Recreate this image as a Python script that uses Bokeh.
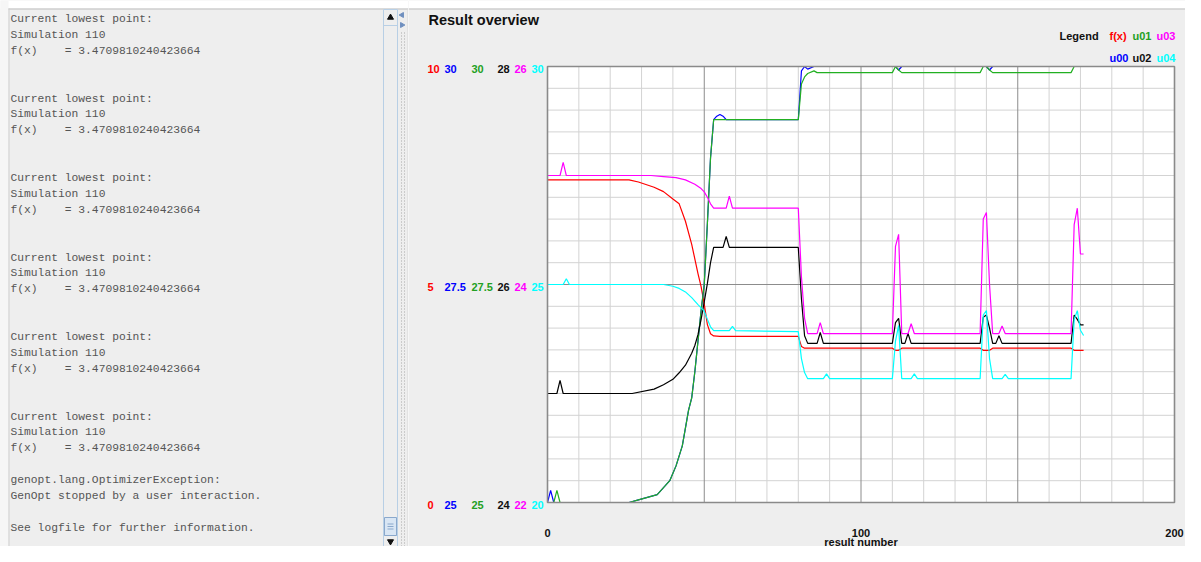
import numpy as np
from bokeh.plotting import figure
from bokeh.models import Range1d
from bokeh.layouts import row
from bokeh.core.properties import value
from bokeh.embed import file_html
from bokeh.resources import INLINE

# ---------------- data ----------------
PAD = "\u00a0" * 4
LOG_GROUP = ["Current lowest point:", "Simulation 110", "f(x)" + PAD + "= 3.4709810240423664"]
LOG_TAIL = ["", "genopt.lang.OptimizerException:", "GenOpt stopped by a user interaction.",
            "", "See logfile for further information."]
LOG_LINES = (LOG_GROUP + ["", ""]) * 5 + LOG_GROUP + LOG_TAIL

TITLE = "Result overview"
X_LABEL = "result number"
X_TICKS = [0, 100, 200]
LEGEND_TITLE = "Legend"

SERIES_NAMES = ["f(x)", "u00", "u01", "u02", "u03", "u04"]
SERIES_COLORS = ["#ff0000", "#0000ff", "#22b022", "#000000", "#ff00ff", "#00ffff"]
LABEL_COLORS = ["#ff0000", "#0000ff", "#22a022", "#111111", "#ff00ff", "#00ffff"]
SERIES_MIN = [0, 25, 25, 24, 22, 20]
SERIES_MAX = [10, 30, 30, 28, 26, 30]

fx_n = [0, 26, 29, 34, 37, 40, 42, 44, 46, 48, 49, 50, 51, 52, 53, 55, 80, 81, 82,
        110, 111, 112, 113, 138, 139, 141, 142, 167, 168, 171]
fx_v = [7.40, 7.40, 7.35, 7.23, 7.13, 6.96, 6.85, 6.45, 5.92, 5.25, 4.95, 4.55, 4.08, 3.87, 3.82, 3.81, 3.81, 3.58, 3.54,
        3.54, 3.49, 3.49, 3.54, 3.54, 3.49, 3.49, 3.54, 3.54, 3.49, 3.49]

u00_n = [0, 1, 2, 26, 29, 35, 39, 41, 43, 45, 46, 47, 48, 49, 50, 51, 52, 53, 54, 55, 56, 57,
         80, 81, 82, 83, 85, 110, 111, 112, 113, 138, 139, 140, 141, 142, 167]
u00_v = [25.0, 25.14, 25.0, 25.0, 25.03, 25.09, 25.25, 25.42, 25.65, 26.06, 26.2, 26.5, 26.85, 27.2, 27.5, 28.2, 28.95,
         29.39, 29.43, 29.45, 29.43, 29.39, 29.39, 29.95, 30.0, 29.97, 30.0, 30.0, 30.0, 29.96, 30.0, 30.0, 30.0, 30.0,
         29.96, 30.0, 30.0]

u01_n = [0, 2, 3, 4, 26, 29, 35, 39, 41, 43, 45, 46, 47, 48, 49, 50, 51, 52, 53, 80, 81, 82, 83, 85, 86,
         110, 111, 112, 113, 138, 139, 140, 141, 142, 167, 168, 171]
u01_v = [25.0, 25.0, 25.14, 25.0, 25.0, 25.03, 25.09, 25.25, 25.42, 25.65, 26.06, 26.2, 26.5, 26.85, 27.2, 27.5, 28.2,
         28.95, 29.39, 29.39, 29.8, 29.88, 29.92, 29.95, 29.93, 29.93, 30.0, 29.96, 29.93, 29.93, 30.0, 30.0, 29.96,
         29.93, 29.93, 30.0, 30.0]

u02_n = [0, 3, 4, 5, 27, 34, 37, 40, 42, 44, 46, 47, 48, 49, 50, 51, 52, 53, 56, 57, 58, 80, 81, 82, 83, 86, 87, 88,
         110, 111, 112, 113, 114, 115, 116, 138, 139, 140, 141, 142, 143, 144, 145, 167, 168, 169, 170, 171]
u02_v = [25.0, 25.0, 25.12, 25.0, 25.0, 25.04, 25.08, 25.13, 25.19, 25.26, 25.37, 25.44, 25.54, 25.68, 25.84, 26.01,
         26.2, 26.34, 26.34, 26.44, 26.34, 26.34, 25.87, 25.53, 25.46, 25.46, 25.56, 25.46,
         25.46, 25.65, 25.69, 25.46, 25.46, 25.55, 25.46, 25.46, 25.70, 25.72, 25.60, 25.46, 25.46, 25.53, 25.46,
         25.46, 25.72, 25.68, 25.63, 25.63]

u03_n = [0, 4, 5, 6, 33, 37, 41, 44, 47, 49, 50, 51, 52, 53, 57, 58, 59, 80, 81, 82, 83, 86, 87, 88,
         110, 111, 112, 113, 115, 116, 117, 138, 139, 140, 141, 142, 144, 145, 146, 167, 168, 169, 170, 171]
u03_v = [25.0, 25.0, 25.12, 25.0, 25.0, 24.99, 24.98, 24.96, 24.92, 24.88, 24.85, 24.80, 24.74, 24.70, 24.70, 24.81,
         24.70, 24.70, 24.07, 23.69, 23.55, 23.55, 23.65, 23.55, 23.55, 24.35, 24.46, 23.55, 23.55, 23.64, 23.55,
         23.55, 24.60, 24.66, 24.0, 23.55, 23.55, 23.62, 23.55, 23.55, 24.55, 24.70, 24.28, 24.28]

u04_n = [0, 5, 6, 7, 37, 40, 42, 44, 46, 48, 50, 51, 52, 53, 58, 59, 60, 80, 81, 82, 83, 88, 89, 90,
         110, 111, 112, 113, 116, 117, 118, 138, 139, 140, 141, 142, 145, 146, 147, 167, 168, 169, 170, 171]
u04_v = [25.0, 25.0, 25.13, 25.0, 25.0, 24.96, 24.91, 24.83, 24.70, 24.54, 24.39, 24.2, 24.03, 23.94, 23.94, 24.04,
         23.94, 23.92, 23.30, 22.98, 22.84, 22.84, 22.95, 22.84, 22.84, 23.7, 24.06, 22.84, 22.84, 22.95, 22.84,
         22.84, 24.3, 24.4, 23.3, 22.84, 22.84, 22.94, 22.84, 22.84, 24.2, 24.4, 23.95, 23.83]

SERIES_N = [fx_n, u00_n, u01_n, u02_n, u03_n, u04_n]
SERIES_V = [fx_v, u00_v, u01_v, u02_v, u03_v, u04_v]

# ---------------- layout constants (picture pixels) ----------------
H = 546
W_L = 408
W_R = 777
FIG_L = W_L                       # chart figure starts where the text panel ends
FRAME_L, FRAME_R = 547, 1174      # plot area left / right
FRAME_T, FRAME_B = 66, 502        # plot area top / bottom
PX_X = (FRAME_R - FRAME_L) / 200.0
PX_Y = FRAME_B - FRAME_T
BG = "#eeeeee"
SANS = value("Liberation Sans")
MONO = value("Liberation Mono")


def xd(px):
    return (px - FRAME_L) / PX_X


def yd(py):
    return (FRAME_B - py) / PX_Y


# ---------------- left text panel ----------------
left = figure(width=W_L, height=H, output_backend="svg", toolbar_location=None,
              x_range=Range1d(0, W_L), y_range=Range1d(H, 0),
              x_axis_location=None, y_axis_location=None, min_border=0)
left.outline_line_color = None
left.background_fill_color = BG
left.border_fill_color = BG
left.grid.visible = False

left.quad(left=[0], right=[W_L], top=[0], bottom=[8], fill_color="white", line_color=None)
left.quad(left=[0], right=[8], top=[0], bottom=[H], fill_color="#f6f6f6", line_color=None)

left.text(x=[10] * len(LOG_LINES), y=[18.5 + 15.9 * i for i in range(len(LOG_LINES))], text=LOG_LINES,
          text_font=MONO, text_font_size="11.3px", text_color="#555555",
          text_align="left", text_baseline="middle")

left.segment(x0=[8], y0=[8.5], x1=[W_L], y1=[8.5], line_color="#bdbdbd", line_width=1)
left.segment(x0=[8.5], y0=[8], x1=[8.5], y1=[H], line_color="#cfcfcf", line_width=1)
# vertical scrollbar
left.quad(left=[383], right=[397], top=[9], bottom=[547], fill_color=BG, line_color="#b8cfe5")
left.segment(x0=[383], y0=[25], x1=[397], y1=[25], line_color="#b8cfe5")
left.segment(x0=[383], y0=[535], x1=[397], y1=[535], line_color="#b8cfe5")
left.quad(left=[384], right=[396], top=[517], bottom=[535], fill_color="#d9e6f4", line_color="#8aa8cc")
left.segment(x0=[387] * 3, y0=[523.5, 526, 528.5], x1=[393] * 3, y1=[523.5, 526, 528.5], line_color="#8aa8cc")
left.scatter(x=[390], y=[17], marker="triangle", size=6, color="#111111")
left.scatter(x=[390], y=[541], marker="inverted_triangle", size=6, color="#111111")
# splitter
left.segment(x0=[401, 404], y0=[32, 32], x1=[401, 404], y1=[H, H], line_color="#a8a8a8",
             line_dash="1 2", line_width=1)
left.scatter(x=[401.5], y=[14.5], marker="triangle", angle=np.pi / 2, size=5, color="#6f8fbf")
left.scatter(x=[401.5], y=[24.5], marker="triangle", angle=-np.pi / 2, size=5, color="#6f8fbf")
left.segment(x0=[407.5], y0=[8], x1=[407.5], y1=[H], line_color="#d6d6d6")

# ---------------- chart ----------------
y_lo, y_hi = yd(H), yd(0)
p = figure(width=W_R, height=H, output_backend="svg", toolbar_location=None,
           x_range=Range1d(xd(FIG_L), xd(FIG_L + W_R)), y_range=Range1d(y_lo, y_hi),
           x_axis_location=None, y_axis_location=None, min_border=0)
p.outline_line_color = None
p.background_fill_color = BG
p.border_fill_color = BG
p.grid.visible = False

for name, lo, hi in zip(SERIES_NAMES, SERIES_MIN, SERIES_MAX):
    span = hi - lo
    p.extra_y_ranges[name] = Range1d(lo + y_lo * span, lo + y_hi * span)

X_MIN, X_MAX = X_TICKS[0], X_TICKS[-1]
p.quad(left=[xd(FIG_L)], right=[xd(FIG_L + W_R)], bottom=[yd(8)], top=[y_hi], fill_color="white", line_color=None)
p.segment(x0=[xd(FIG_L)], y0=[yd(8.5)], x1=[xd(FIG_L + W_R)], y1=[yd(8.5)], line_color="#bdbdbd")
p.quad(left=[X_MIN], right=[X_MAX], bottom=[0], top=[1], fill_color="white", line_color=None)

vx = np.arange(X_MIN, X_MAX + 1, 10)
hy = np.arange(0, 21) / 20
v_light = [v for v in vx if v % 50 != 0]
v_dark = [v for v in vx if v % 50 == 0 and X_MIN < v < X_MAX]
h_light = [h for h in hy if abs(h - 0.5) > 1e-9 and 0 < h < 1]
p.segment(x0=v_light, y0=0, x1=v_light, y1=1, line_color="#d3d3d3", line_width=1)
p.segment(x0=X_MIN, y0=h_light, x1=X_MAX, y1=h_light, line_color="#d3d3d3", line_width=1)
p.segment(x0=v_dark, y0=0, x1=v_dark, y1=1, line_color="#8c8c8c", line_width=1)
p.segment(x0=[X_MIN], y0=[0.5], x1=[X_MAX], y1=[0.5], line_color="#8c8c8c", line_width=1)

for name, color, n, v in zip(SERIES_NAMES, SERIES_COLORS, SERIES_N, SERIES_V):
    p.line(x=n, y=v, line_color=color, line_width=1.2, y_range_name=name)

p.quad(left=[X_MIN], right=[X_MAX], bottom=[0], top=[1], fill_color=None, line_color="#8a8a8a", line_width=1.6)

# per-series tick labels (min, mid, max) on the left
COL_PX = [427, 444, 471, 497, 514, 531]
for name, color, lo, hi, cpx in zip(SERIES_NAMES, LABEL_COLORS, SERIES_MIN, SERIES_MAX, COL_PX):
    ticks = [lo, (lo + hi) / 2, hi]
    p.text(x=[X_MIN] * 3, y=ticks, text=["%g" % t for t in ticks], x_offset=cpx - FRAME_L, y_offset=2,
           text_font=SANS, text_font_size="11px", text_font_style="bold", text_color=color,
           text_align="left", text_baseline="middle", y_range_name=name)

# x tick labels and title
p.text(x=X_TICKS, y=[0] * len(X_TICKS), text=[str(t) for t in X_TICKS], y_offset=30,
       text_font=SANS, text_font_size="11px", text_font_style="bold", text_color="#111111",
       text_align="center", text_baseline="middle")
p.text(x=[(X_MIN + X_MAX) / 2], y=[0], text=[X_LABEL], y_offset=39,
       text_font=SANS, text_font_size="11px", text_font_style="bold", text_color="#111111",
       text_align="center", text_baseline="middle")

p.text(x=[xd(428)], y=[yd(19)], text=[TITLE], text_font=SANS, text_font_size="14.5px",
       text_font_style="bold", text_color="#111111", text_align="left", text_baseline="middle")

# legend (two rows)
p.text(x=[xd(1059)], y=[yd(35)], text=[LEGEND_TITLE], text_font=SANS, text_font_size="11px",
       text_font_style="bold", text_color="#111111", text_align="left", text_baseline="middle")
LEG_COL_PX = [1109, 1132, 1156]
LEG_ROW_PY = [35, 57.5]
for i, (name, color) in enumerate(zip(SERIES_NAMES, LABEL_COLORS)):
    p.text(x=[xd(LEG_COL_PX[i // 2])], y=[yd(LEG_ROW_PY[i % 2])], text=[name], text_font=SANS,
           text_font_size="11px", text_font_style="bold", text_color=color,
           text_align="left", text_baseline="middle")

layout = row(left, p, spacing=0)
open("out.html", "w").write(file_html(layout, INLINE))
